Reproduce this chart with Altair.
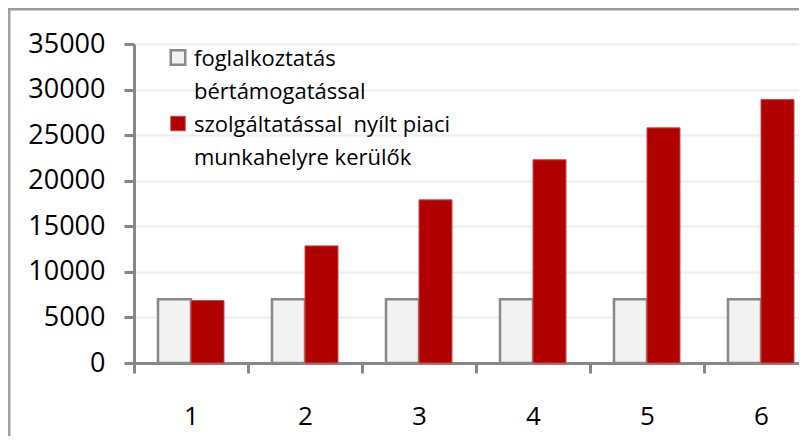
import altair as alt
import pandas as pd

# ---- data ----
categories = ["1", "2", "3", "4", "5", "6"]
series_names = [
    "foglalkoztatás\nbértámogatással",
    "szolgáltatással\u00a0 nyílt piaci\nmunkahelyre kerülők",
]
wage_subsidy = [7000, 7000, 7000, 7000, 7000, 7000]
open_market = [6850, 12850, 17900, 22300, 25800, 28900]
y_ticks = [0, 5000, 10000, 15000, 20000, 25000, 30000, 35000]

fill_colors = ["#f2f2f2", "#b00000"]
stroke_colors = ["#898989", "#c84a4a"]

rows = []
for c, v in zip(categories, wage_subsidy):
    rows.append({"cat": c, "series": series_names[0], "value": v})
for c, v in zip(categories, open_market):
    rows.append({"cat": c, "series": series_names[1], "value": v})
df = pd.DataFrame(rows)

FONT = "Open Sans"
PLOT_W = 665
PLOT_H = 319
RANGE_W = 684

bars = alt.Chart(df).mark_bar().encode(
    x=alt.X(
        "cat:N",
        sort=categories,
        scale=alt.Scale(range=[0, RANGE_W], paddingInner=0, paddingOuter=0),
        axis=alt.Axis(
            title=None,
            labelAngle=0,
            tickBand="extent",
            tickSize=10,
            tickWidth=3,
            tickColor="#878787",
            domainColor="#878787",
            domainWidth=3,
            labelPadding=30,
            labelFont=FONT,
            labelFontSize=26,
            labelColor="#000000",
            grid=False,
        ),
    ),
    xOffset=alt.XOffset(
        "series:N",
        sort=series_names,
        scale=alt.Scale(domain=series_names, paddingInner=0, paddingOuter=0.727),
    ),
    y=alt.Y(
        "value:Q",
        scale=alt.Scale(domain=[0, 35000], nice=False),
        axis=alt.Axis(
            title=None,
            values=y_ticks,
            format="d",
            tickSize=10,
            tickWidth=3,
            tickColor="#878787",
            domainColor="#878787",
            domainWidth=3,
            labelPadding=19,
            labelFont=FONT,
            labelFontSize=27,
            labelColor="#000000",
            grid=True,
            gridColor="#eeeeee",
            gridWidth=2,
        ),
    ),
    fill=alt.Fill(
        "series:N",
        sort=series_names,
        scale=alt.Scale(domain=series_names, range=fill_colors),
        legend=alt.Legend(
            title=None,
            orient="none",
            legendX=33,
            legendY=11,
            padding=0,
            labelExpr="split(datum.label, '\\n')",
            labelFont=FONT,
            labelFontSize=22,
            labelColor="#000000",
            labelLimit=600,
            labelOffset=5,
            labelBaseline="alphabetic",
            symbolType="M-1,-2.17H1V-0.17H-1Z",
            symbolSize=210,
            symbolStrokeWidth=1.5,
            rowPadding=11,
        ),
    ),
    stroke=alt.Stroke(
        "series:N",
        sort=series_names,
        scale=alt.Scale(domain=series_names, range=stroke_colors),
    ),
    strokeWidth=alt.StrokeWidth(
        "series:N",
        scale=alt.Scale(domain=series_names, range=[2.5, 1]),
        legend=None,
    ),
)

frame_df = pd.DataFrame({"k": [0]})
frame_left = alt.Chart(frame_df).mark_rule(color="#a0a0a0", strokeWidth=2.5).encode(
    x=alt.value(-124.75), y=alt.value(-36), y2=alt.value(392)
)
frame_top = alt.Chart(frame_df).mark_rule(color="#9a9a9a", strokeWidth=2.5).encode(
    x=alt.value(-126), x2=alt.value(PLOT_W + 20), y=alt.value(-34.75)
)

chart = alt.layer(bars, frame_left, frame_top).properties(
    width=PLOT_W,
    height=PLOT_H,
    padding={"left": 126, "top": 36, "right": 0, "bottom": 73},
    autosize=alt.AutoSizeParams(type="none"),
).configure_view(stroke=None).configure(
    style={"guide-label": {"lineHeight": 33}}
)

chart.save("out.html", embed_options={"renderer": "svg", "actions": False})
